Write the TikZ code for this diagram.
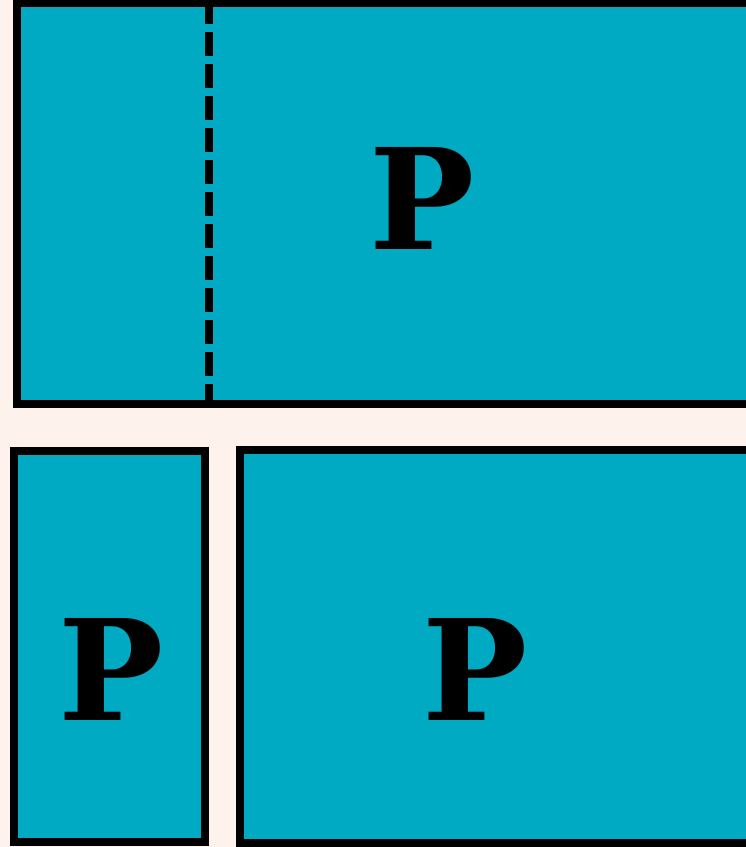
\documentclass[tikz,border=0pt]{standalone}
\usepackage{fontspec}
\setmainfont{DejaVu Serif}
\usepackage{tikz}
\usetikzlibrary{positioning}
\definecolor{paperBg}{RGB}{253,243,236}
\definecolor{paneTeal}{RGB}{0,170,195}
\tikzset{
    panel/.style={draw=black, fill=paneTeal, line width=7.5pt},
    split/.style={draw=black, line width=7.5pt, dash pattern=on 24pt off 8pt},
    glyph/.style={anchor=base, inner sep=0pt, font=\fontsize{140}{140}\selectfont\bfseries}
}
\begin{document}
\begin{tikzpicture}[x=1pt, y=-1pt]
    % page and margins
    \fill[paperBg] (0,0) rectangle (746,847);
    \useasboundingbox (0,0) rectangle (746,847);
    \clip (0,0) rectangle (746,847);

    % top pane with dashed split
    \draw[panel] (17,3.5) rectangle (780,404);
    \draw[split] (209,0) -- (209,404);
    \node[glyph] (ptop) at (422.5,249) {P};

    % bottom panes
    \draw[panel] (14,451) rectangle (205,842);
    \draw[panel] (240,450) rectangle (780,843);
    \node[glyph] (pleft) at (111,720) {P};
    \node[glyph] (pright) at (475,720) {P};
\end{tikzpicture}
\end{document}
